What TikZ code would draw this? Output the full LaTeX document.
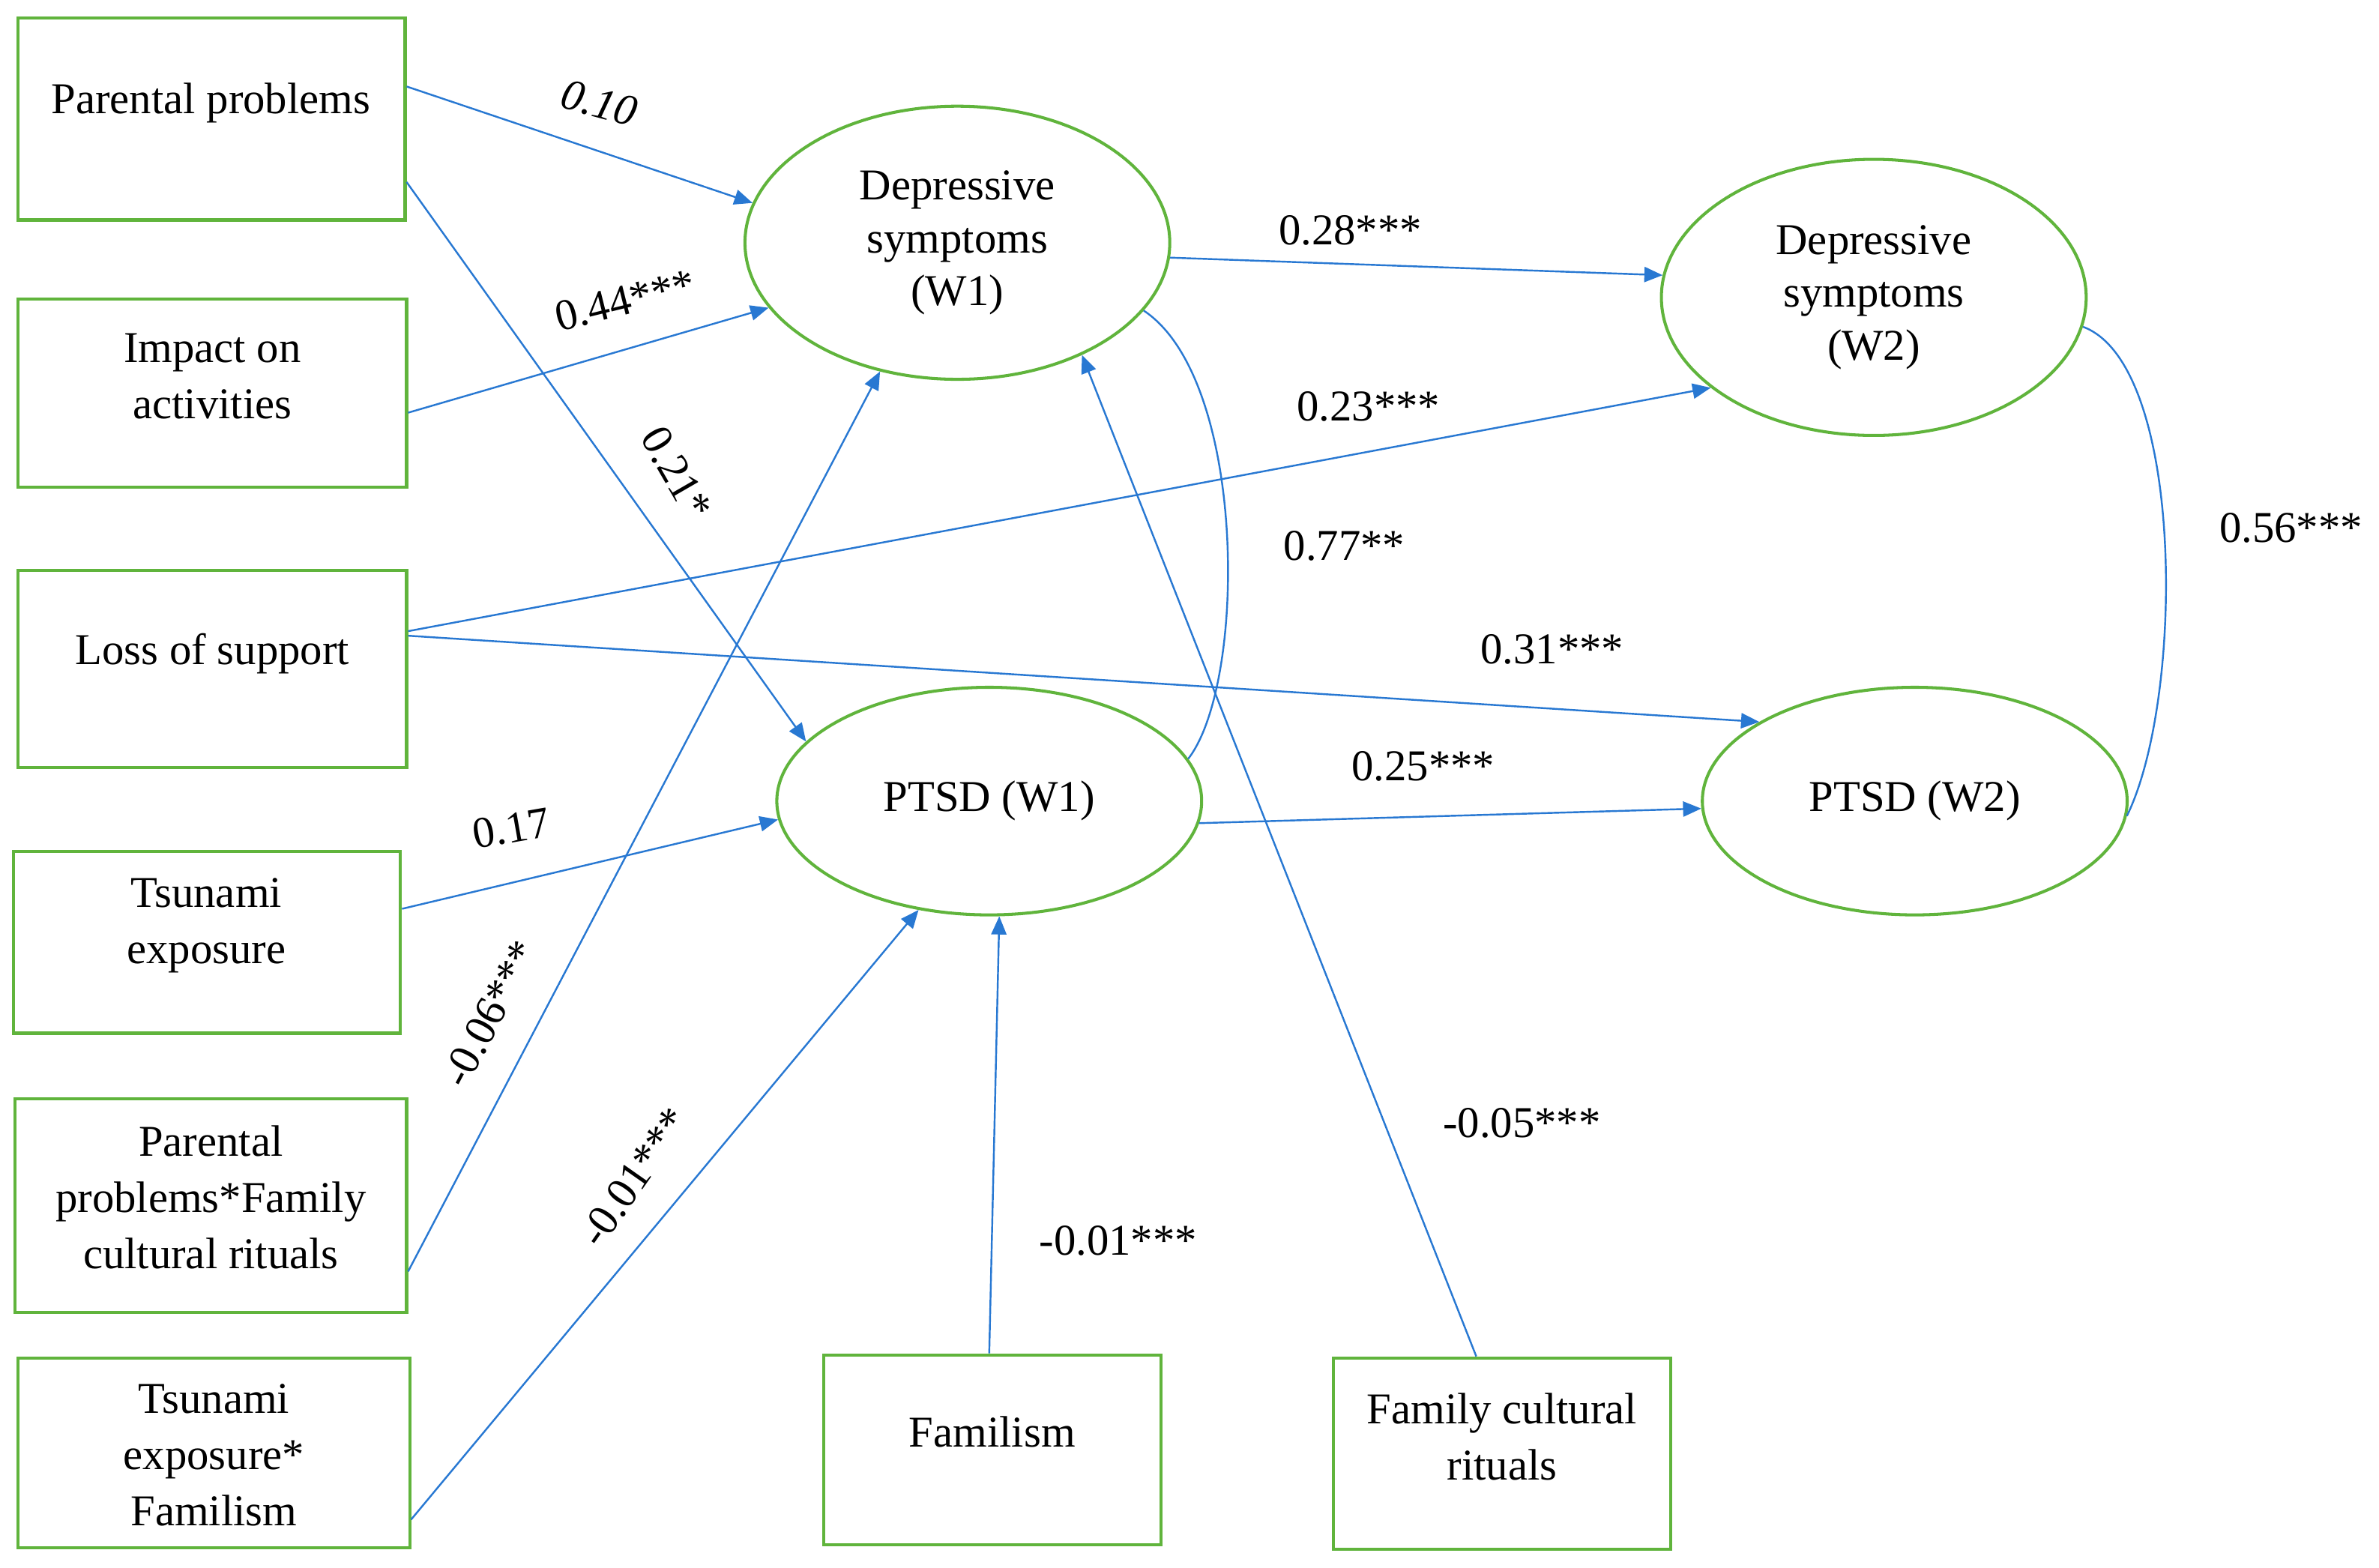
\documentclass[tikz,border=0pt]{standalone}
\usepackage{fontspec}
\setmainfont{Liberation Serif}
\usetikzlibrary{shapes.geometric,arrows.meta}
\definecolor{gr}{RGB}{96,180,60}
\definecolor{bl}{RGB}{40,120,210}
\begin{document}
\begin{tikzpicture}[x=0.5pt,y=-0.5pt,
 box/.style={draw=gr,line width=1pt,inner sep=0pt},
 bt/.style={align=center,inner sep=0pt,font=\fontsize{14.5}{18.5}\selectfont},
 ell/.style={draw=gr,line width=1pt,ellipse,align=center,inner sep=0pt,font=\fontsize{14.5}{17.5}\selectfont},
 arr/.style={draw=bl,line width=0.6pt,-{Triangle[length=6pt,width=5pt]}},
 cor/.style={draw=bl,line width=0.6pt},
 lab/.style={font=\fontsize{14.5}{16}\selectfont}]
\useasboundingbox (0,0) rectangle (1568,1033);
\node[box,minimum width=127.5pt,minimum height=66.5pt] (pp) at (139.5,78.5) {};
\node[box,minimum width=128pt,minimum height=62pt] (ia) at (140,259) {};
\node[box,minimum width=128pt,minimum height=65pt] (ls) at (140,441) {};
\node[box,minimum width=127.5pt,minimum height=60pt] (te) at (136.5,621) {};
\node[box,minimum width=129pt,minimum height=70.5pt] (pf) at (139,794.5) {};
\node[box,minimum width=129pt,minimum height=62.5pt] (tf) at (141,957.5) {};
\node[box,minimum width=111pt,minimum height=62.5pt] (fa) at (654,955.5) {};
\node[box,minimum width=111pt,minimum height=63pt] (fc) at (990,958) {};
\node[bt] (tpp) at (139,68) {Parental problems};
\node[bt] (tia) at (140,248) {Impact on\\activities};
\node[bt] (tls) at (140,431) {Loss of support};
\node[bt] (tte) at (136,610) {Tsunami\\exposure};
\node[bt] (tpf) at (139,789) {Parental\\problems*Family\\cultural rituals};
\node[bt] (ttf) at (141,959) {Tsunami\\exposure*\\Familism};
\node[bt] (tfa) at (654,944) {Familism};
\node[bt] (tfc) at (990,947) {Family cultural\\rituals};
\node[ell,minimum width=140pt,minimum height=90pt] (d1) at (631,160) {Depressive\\symptoms\\(W1)};
\node[ell,minimum width=140pt,minimum height=91pt] (d2) at (1235,196) {Depressive\\symptoms\\(W2)};
\node[ell,minimum width=140pt,minimum height=75pt] (p1) at (652,528) {PTSD (W1)};
\node[ell,minimum width=140pt,minimum height=75pt] (p2) at (1262,528) {PTSD (W2)};
\draw[arr] ([yshift=10.75pt]pp.east) -- (d1.169);
\draw[arr] ([yshift=-20.75pt]pp.east) -- (p1.162);
\draw[arr] ([yshift=-6.5pt]ia.east) -- (d1.199);
\draw[arr] ([yshift=12.5pt]ls.east) -- (d2.209);
\draw[arr] ([yshift=11pt]ls.east) -- (p2.153);
\draw[arr] ([yshift=11pt]te.east) -- (p1.185);
\draw[arr] ([yshift=-21.75pt]pf.east) -- (d1.239);
\draw[arr] ([yshift=-22pt]tf.east) -- (p1.237);
\draw[arr] ([xshift=-1pt]fa.north) -- (p1.275);
\draw[arr] ([xshift=-8.5pt]fc.north) -- (d1.318);
\draw[arr] (d1.-4) -- (d2.174);
\draw[arr] (p1.-6) -- (p2.182);
\draw[cor] (p1.12) .. controls (822,450) and (822,250) .. (d1.-20);
\draw[cor] (d2.-8) .. controls (1440,240) and (1440,460) .. (p2.-4);
\node[lab,rotate=-15] (l1) at (395,68) {\itshape 0.10};
\node[lab,rotate=14] (l2) at (412,198) {0.44***};
\node[lab,rotate=-60] (l3) at (446,312) {0.21*};
\node[lab] (l4) at (890,152) {0.28***};
\node[lab] (l5) at (902,268) {0.23***};
\node[lab] (l6) at (886,360) {0.77**};
\node[lab] (l7) at (1023,428) {0.31***};
\node[lab] (l8) at (938,505) {0.25***};
\node[lab] (l9) at (1510,348) {0.56***};
\node[lab,rotate=10] (l10) at (337,546) {0.17};
\node[lab,rotate=62] (l11) at (323,668) {-0.06***};
\node[lab,rotate=55] (l12) at (418,776) {-0.01***};
\node[lab] (l13) at (737,818) {-0.01***};
\node[lab] (l14) at (1003,740) {-0.05***};
\end{tikzpicture}
\end{document}
